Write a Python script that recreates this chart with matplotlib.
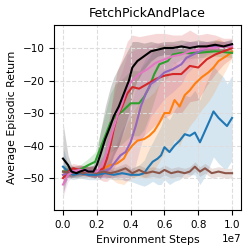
import numpy as np
import matplotlib.pyplot as plt

# curves (x in units of 1e7 steps)
x_blue = [0, 0.03, 0.06, 0.1, 0.15, 0.2, 0.25, 0.3, 0.35, 0.4, 0.45, 0.48, 0.5, 0.53, 0.56, 0.58,
          0.6, 0.63, 0.66, 0.69, 0.72, 0.75, 0.78, 0.81, 0.84, 0.87, 0.89, 0.92, 0.95, 0.97, 1.0]
y_blue = [-46.5, -48, -49, -48.5, -49, -49, -48.5, -49, -48.5, -49, -49, -48.5, -47, -45, -44, -43,
          -40.5, -42, -40, -38.5, -36.5, -37, -36, -39, -35.5, -32, -29.5, -31.5, -33, -34, -31.5]
s_blue = [6, 2, 1.5, 1.5, 1.5, 1.5, 1.5, 1.5, 2, 2, 3, 4, 5, 6, 8, 9,
          10, 10, 11, 12, 12, 12, 13, 13, 14, 14, 14, 14, 14, 13, 13]

x_orange = [0, 0.05, 0.1, 0.15, 0.2, 0.24, 0.28, 0.32, 0.36, 0.38, 0.41, 0.44, 0.48, 0.51, 0.54,
            0.57, 0.6, 0.63, 0.66, 0.69, 0.72, 0.75, 0.78, 0.82, 0.86, 0.89, 0.92, 0.95, 0.98, 1.0]
y_orange = [-49, -48, -47.5, -48, -48, -47, -46, -45.5, -44, -42, -40, -38.5, -38, -37, -35.5,
            -33, -30, -30, -26, -28, -24.5, -23, -21, -19, -17.5, -16, -14, -13, -12, -11]
s_orange = [1.5, 1.5, 1.5, 1.5, 1.5, 2, 4, 6, 8, 9, 10, 11, 12, 12, 12,
            12, 12, 12, 12, 12, 12, 11, 11, 10, 9, 8, 7, 5, 3, 2]

x_green = [0, 0.05, 0.1, 0.15, 0.19, 0.22, 0.25, 0.28, 0.31, 0.35, 0.4, 0.45, 0.48, 0.51, 0.54,
           0.57, 0.62, 0.65, 0.7, 0.8, 0.9, 1.0]
y_green = [-48, -48, -47.5, -46, -45, -41, -37, -33, -31, -29.5, -27, -27, -25, -22, -18,
           -15, -14, -12, -11.5, -11.5, -11, -11.5]
s_green = [2, 1.5, 1.5, 2, 3, 5, 7, 9, 10, 10, 10, 10, 10, 9, 8,
           6, 5, 3, 2, 1.5, 1.5, 1.5]

x_red = [0, 0.03, 0.06, 0.1, 0.15, 0.2, 0.24, 0.26, 0.28, 0.3, 0.32, 0.35, 0.38, 0.41, 0.45,
         0.5, 0.55, 0.6, 0.65, 0.7, 0.75, 0.8, 0.85, 0.9, 0.95, 1.0]
y_red = [-50, -48, -47, -47.5, -48, -48, -47, -44, -40, -35, -31, -28, -24, -22, -22.5,
         -21, -19.5, -18.5, -18, -18, -15.5, -16, -13.5, -12, -11, -10]
s_red = [2, 1.5, 1.5, 1.5, 1.5, 2, 4, 7, 10, 12, 14, 15, 16, 16, 16,
         15, 14, 13, 12, 12, 11, 10, 8, 6, 4, 3]

x_purple = [0, 0.05, 0.1, 0.2, 0.25, 0.28, 0.31, 0.34, 0.37, 0.4, 0.43, 0.46, 0.49, 0.52, 0.55,
            0.6, 0.65, 0.7, 0.73, 0.77, 0.81, 0.85, 0.9, 0.95, 1.0]
y_purple = [-49, -48, -47.5, -48, -48, -47, -45, -43, -42, -39, -34, -28, -24, -21, -20,
            -17.5, -16.5, -15, -13, -12, -11, -10, -9.5, -9.5, -9]
s_purple = [1.5, 1.5, 1.5, 1.5, 2, 3, 5, 7, 9, 11, 12, 12, 11, 10, 9,
            8, 7, 6, 5, 4, 3, 2, 1.5, 1.5, 1.5]

x_brown = [0, 0.04, 0.08, 0.12, 0.16, 0.2, 0.24, 0.28, 0.32, 0.37, 0.41, 0.45, 0.49, 0.53, 0.57,
           0.6, 0.64, 0.68, 0.72, 0.75, 0.78, 0.81, 0.84, 0.88, 0.92, 0.96, 1.0]
y_brown = [-48, -48.5, -48, -48.5, -48, -48.5, -48, -48.5, -48, -47, -48.5, -47.5, -48.5, -48, -48.5,
           -47.5, -48.5, -48, -48.5, -48, -46.5, -48, -47, -48.5, -48, -48.5, -48.5]
s_brown = [1.5] * len(x_brown)

x_pink = [0, 0.03, 0.06, 0.1, 0.15, 0.2, 0.23, 0.26, 0.29, 0.32, 0.35, 0.38, 0.41, 0.45, 0.5,
          0.55, 0.6, 0.65, 0.7, 0.75, 0.8, 0.85, 0.9, 0.95, 1.0]
y_pink = [-52, -49, -48, -47.5, -48, -48, -46, -42, -36, -31, -27, -22, -20, -18, -16.5,
          -14.5, -13.5, -12.5, -12, -11, -10.5, -10, -10, -9.5, -9.5]
s_pink = [4, 2, 1.5, 1.5, 1.5, 2, 4, 7, 9, 10, 10, 10, 9, 8, 7,
          6, 5, 4, 3, 3, 2, 2, 1.5, 1.5, 1.5]

x_black = [0, 0.03, 0.05, 0.08, 0.1, 0.13, 0.15, 0.18, 0.2, 0.22, 0.25, 0.28, 0.3, 0.33, 0.36,
           0.39, 0.41, 0.44, 0.48, 0.52, 0.56, 0.6, 0.65, 0.7, 0.75, 0.8, 0.85, 0.9, 0.95, 1.0]
y_black = [-44, -46, -48, -48.5, -48, -47.5, -48, -48, -46, -43, -38, -34, -31, -28, -24,
           -20, -16, -14, -12.5, -11, -10.5, -10, -10, -9.5, -10, -9.5, -9.5, -9, -9.5, -8.8]
s_black = [11, 3, 2, 1.5, 1.5, 1.5, 1.5, 2, 4, 7, 10, 12, 12, 12, 11,
           10, 8, 6, 4, 3, 2, 2, 2, 2, 2, 2, 1.5, 1.5, 1.5, 1.5]

series = [
    (x_blue, y_blue, s_blue, "tab:blue"),
    (x_orange, y_orange, s_orange, "tab:orange"),
    (x_green, y_green, s_green, "tab:green"),
    (x_red, y_red, s_red, "tab:red"),
    (x_purple, y_purple, s_purple, "tab:purple"),
    (x_brown, y_brown, s_brown, "tab:brown"),
    (x_pink, y_pink, s_pink, "tab:pink"),
    (x_black, y_black, s_black, "black"),
]

fig = plt.figure(figsize=(2.49, 2.52), dpi=100)
ax = fig.add_axes([0.217, 0.167, 0.751, 0.734])

for xs, ys, ss, c in series:
    xs = np.array(xs) * 1e7
    ys = np.array(ys)
    ss = np.array(ss)
    ax.fill_between(xs, ys - ss, ys + ss, color=c, alpha=0.18, linewidth=0)
    ax.plot(xs, ys, color=c, linewidth=1.5)

ax.set_xlim(-0.053e7, 1.053e7)
ax.set_ylim(-59.8, -2.9)
ax.set_yticks([-50, -40, -30, -20, -10])
ax.set_xticks([0, 0.2e7, 0.4e7, 0.6e7, 0.8e7, 1.0e7])
ax.grid(True, linestyle="--", color="#dddddd", linewidth=0.8)
ax.tick_params(labelsize=7.5)
ax.xaxis.get_offset_text().set_fontsize(7.5)
ax.set_title("FetchPickAndPlace", fontsize=9)
ax.set_xlabel("Environment Steps", fontsize=7.8)
ax.set_ylabel("Average Episodic Return", fontsize=7.8)

fig.savefig("out.png", dpi=100)
